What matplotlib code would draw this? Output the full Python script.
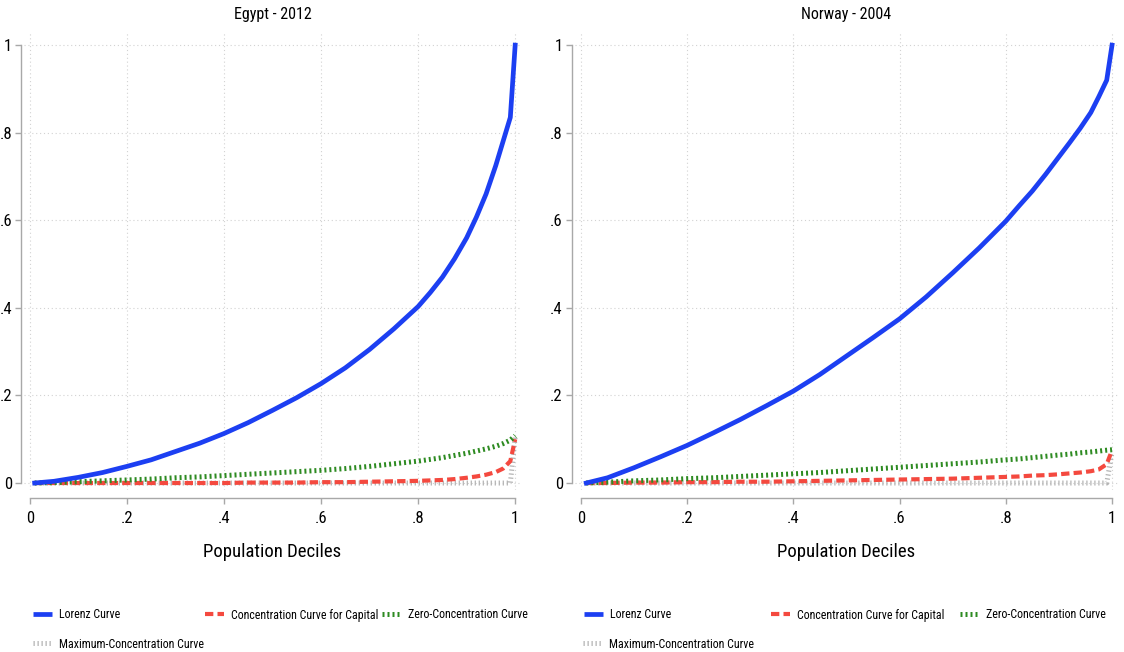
import matplotlib
matplotlib.use("Agg")
import matplotlib.pyplot as plt
from matplotlib.lines import Line2D

plt.rcParams['font.family'] = ['Roboto Condensed', 'Archivo Narrow', 'DejaVu Sans']
plt.rcParams['font.stretch'] = 'condensed'

# Data: cumulative share, per population share
pop = [0.01, 0.05, 0.1, 0.15, 0.2, 0.25, 0.3, 0.35, 0.4, 0.45, 0.5, 0.55, 0.6, 0.65,
       0.7, 0.75, 0.8, 0.825, 0.85, 0.875, 0.9, 0.92, 0.94, 0.96, 0.975, 0.99, 1.0]

egypt_lorenz = [0.0, 0.004, 0.013, 0.024, 0.038, 0.053, 0.072, 0.091, 0.113, 0.138, 0.166, 0.195,
                0.227, 0.263, 0.305, 0.352, 0.403, 0.435, 0.47, 0.512, 0.56, 0.607, 0.66, 0.725,
                0.78, 0.835, 1.0]
egypt_capital = [0.0, 0.0, 0.0, 0.0, 0.0, 0.0, 0.0, 0.0, 0.0, 0.001, 0.001, 0.001, 0.002, 0.002,
                 0.003, 0.004, 0.005, 0.006, 0.007, 0.009, 0.012, 0.015, 0.019, 0.025, 0.033,
                 0.05, 0.10]
egypt_zero = [0.0, 0.001, 0.003, 0.005, 0.007, 0.009, 0.012, 0.014, 0.017, 0.020, 0.023, 0.026,
              0.029, 0.033, 0.038, 0.044, 0.050, 0.054, 0.058, 0.063, 0.068, 0.073, 0.078, 0.084,
              0.09, 0.098, 0.108]
egypt_max = [0.0] * 26 + [0.105]

norway_lorenz = [0.0, 0.012, 0.035, 0.06, 0.086, 0.115, 0.145, 0.177, 0.21, 0.248, 0.29, 0.332,
                 0.375, 0.425, 0.48, 0.537, 0.598, 0.633, 0.667, 0.705, 0.745, 0.777, 0.81, 0.846,
                 0.882, 0.92, 1.0]
norway_capital = [0.0, 0.0, 0.001, 0.001, 0.002, 0.002, 0.003, 0.003, 0.004, 0.005, 0.006, 0.007,
                  0.008, 0.009, 0.01, 0.012, 0.014, 0.015, 0.017, 0.018, 0.02, 0.022, 0.024, 0.027,
                  0.031, 0.043, 0.075]
norway_zero = [0.0, 0.002, 0.005, 0.007, 0.01, 0.012, 0.015, 0.018, 0.021, 0.024, 0.028, 0.032,
               0.036, 0.04, 0.044, 0.048, 0.053, 0.055, 0.058, 0.061, 0.064, 0.066, 0.069, 0.071,
               0.073, 0.075, 0.076]
norway_max = [0.0] * 26 + [0.07]

panels = [
    ("Egypt - 2012", egypt_lorenz, egypt_capital, egypt_zero, egypt_max),
    ("Norway - 2004", norway_lorenz, norway_capital, norway_zero, norway_max),
]

labels = ["Lorenz Curve", "Concentration Curve for Capital",
          "Zero-Concentration Curve", "Maximum-Concentration Curve"]
ticks = [0, 0.2, 0.4, 0.6, 0.8, 1]
ticklabels = ["0", ".2", ".4", ".6", ".8", "1"]

blue = "#1c3ff2"
red = "#f4493f"
green = "#2e8b22"
grey = "#b4b4b4"
axcol = "#a8a8a8"

styles = [
    dict(color=blue, lw=3.4, solid_capstyle='butt'),
    dict(color=red, lw=3.0, linestyle=(0, (2.0, 1.0)), dash_capstyle='butt'),
    dict(color=green, lw=3.6, linestyle=(0, (0.4, 0.6)), dash_capstyle='butt'),
    dict(color=grey, lw=3.6, linestyle=(0, (0.25, 0.55)), dash_capstyle='butt'),
]

W, H = 1124, 652
fig = plt.figure(figsize=(W / 100, H / 100), dpi=100)

# pixel boxes (left, right) for each panel; y shared
boxes = [(24, 521), (574.6, 1118.4)]
top_px, bot_px = 32, 489.6
# legend item start positions in pixels (x), rows at y
leg_x = [(33, 205, 382, 33), (584, 771, 960, 583)]
leg_y = [615, 615, 615, 644]

for (title, lor, cap, zero, mx), (l, r), lx in zip(panels, boxes, leg_x):
    ax = fig.add_axes([l / W, 1 - bot_px / H, (r - l) / W, (bot_px - top_px) / H])
    ax.set_xlim(-0.012, 1.012)
    ax.set_ylim(-0.015, 1.03)

    ax.plot(pop, mx, clip_on=False, zorder=3, **styles[3])
    ax.plot(pop, cap, clip_on=False, zorder=4, **styles[1])
    ax.plot(pop, zero, clip_on=False, zorder=5, **styles[2])
    ax.plot(pop, lor, clip_on=False, zorder=6, solid_joinstyle='round',
            **{k: v for k, v in styles[0].items() if k != 'solid_capstyle'})

    ax.set_xticks(ticks)
    ax.set_xticklabels(ticklabels)
    ax.set_yticks(ticks)
    ax.set_yticklabels(ticklabels)
    ax.grid(True, color="#d2d2d2", lw=0.8, linestyle=(0, (1, 2.5)))
    ax.set_axisbelow(True)

    for s in ['top', 'right']:
        ax.spines[s].set_visible(False)
    ax.spines['left'].set_position(('outward', 2))
    ax.spines['bottom'].set_position(('outward', 6))
    ax.spines['left'].set_bounds(0, 1)
    ax.spines['bottom'].set_bounds(0, 1)
    for s in ['left', 'bottom']:
        ax.spines[s].set_color(axcol)
        ax.spines[s].set_linewidth(1.0)
    ax.tick_params(axis='both', colors=axcol, labelcolor='black', length=4.5,
                   width=1.0, labelsize=12)
    ax.tick_params(axis='y', pad=2)
    ax.tick_params(axis='x', pad=5)

    ax.set_title(title, fontsize=11.5, pad=9)
    ax.set_xlabel("Population Deciles", fontsize=13.5, labelpad=12)

    # one legend entry per slot, placed where the original puts them
    for i in range(4):
        h = Line2D([], [], **styles[i])
        fig.legend([h], [labels[i]], loc='center left',
                   bbox_to_anchor=(lx[i] / W, 1 - leg_y[i] / H),
                   frameon=False, fontsize=8.6, handlelength=1.6,
                   handletextpad=0.55, borderpad=0, borderaxespad=0)

fig.savefig("out.png", dpi=100)
